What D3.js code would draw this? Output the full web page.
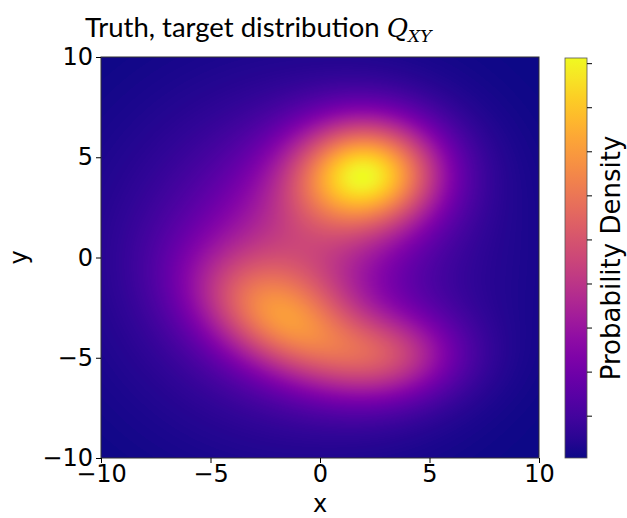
<!DOCTYPE html>
<meta charset="utf-8" />
<style>
  body { margin: 0; background: #fff; }
  svg { font-family: 'DejaVu Sans', sans-serif; }
  .axis text { font-family: 'DejaVu Sans', sans-serif; font-size: 24px; fill: #000; }
  .axis path, .axis line { stroke: #000; stroke-width: 1; }
</style>
<svg width="627" height="518"></svg>
<script src="https://d3js.org/d3.v7.min.js"></script>
<script>
  // gaussian components of the target density
  var compX = [2.15, -1.6, 3.3, -1.2, -1.0];
  var compY = [4.2, -3.3, -4.9, -0.2, 0.0];
  var compSx = [2.3, 3.0, 2.2, 3.0, 5.5];
  var compSy = [1.9, 1.7, 1.5, 3.3, 5.5];
  var compAngle = [0, -32, 0, 0, 0]; // degrees
  var compAmp = [0.0152, 0.0082, 0.0062, 0.0046, 0.0030];

  var xTicks = [-10, -5, 0, 5, 10];
  var yTicks = [-10, -5, 0, 5, 10];
  var cbarTicks = [0, 0.002, 0.004, 0.006, 0.008, 0.01, 0.012, 0.014, 0.016, 0.018];

  var svg = d3.select('svg'),
    margin = { top: 57, left: 101 },
    width = 438,
    height = 401;

  var x = d3.scaleLinear().domain([-10, 10]).range([margin.left, margin.left + width]),
    y = d3.scaleLinear().domain([-10, 10]).range([margin.top + height, margin.top]);

  function density(px, py) {
    var s = 0;
    for (var i = 0; i < compX.length; i++) {
      var a = (compAngle[i] * Math.PI) / 180;
      var dx = px - compX[i], dy = py - compY[i];
      var u = dx * Math.cos(a) + dy * Math.sin(a);
      var v = -dx * Math.sin(a) + dy * Math.cos(a);
      s += compAmp[i] * Math.exp(-(u * u) / (2 * compSx[i] * compSx[i]) - (v * v) / (2 * compSy[i] * compSy[i]));
    }
    return s;
  }

  // sample the field at every pixel of the plot area
  var vals = new Float64Array(width * height);
  var vmin = Infinity, vmax = -Infinity;
  for (var j = 0; j < height; j++) {
    for (var i = 0; i < width; i++) {
      var v = density(x.invert(margin.left + i + 0.5), y.invert(margin.top + j + 0.5));
      vals[j * width + i] = v;
      if (v < vmin) vmin = v;
      if (v > vmax) vmax = v;
    }
  }
  var color = d3.scaleSequential(d3.interpolatePlasma).domain([vmin, vmax]);

  var canvas = document.createElement('canvas');
  canvas.width = width;
  canvas.height = height;
  var ctx = canvas.getContext('2d');
  var img = ctx.createImageData(width, height);
  for (var k = 0; k < vals.length; k++) {
    var c = d3.rgb(color(vals[k]));
    img.data[k * 4] = c.r;
    img.data[k * 4 + 1] = c.g;
    img.data[k * 4 + 2] = c.b;
    img.data[k * 4 + 3] = 255;
  }
  ctx.putImageData(img, 0, 0);

  svg.append('image')
    .attr('x', margin.left)
    .attr('y', margin.top)
    .attr('width', width)
    .attr('height', height)
    .attr('href', canvas.toDataURL());

  // frame
  svg.append('rect')
    .attr('x', margin.left)
    .attr('y', margin.top)
    .attr('width', width)
    .attr('height', height)
    .attr('fill', 'none')
    .attr('stroke', '#333');

  svg.append('g')
    .attr('class', 'axis')
    .attr('transform', 'translate(0,' + (margin.top + height) + ')')
    .call(d3.axisBottom(x).tickValues(xTicks).tickSize(5).tickPadding(2).tickSizeOuter(0))
    .call((g) => g.select('.domain').remove());

  svg.append('g')
    .attr('class', 'axis')
    .attr('transform', 'translate(' + margin.left + ',0)')
    .call(d3.axisLeft(y).tickValues(yTicks).tickSize(5).tickPadding(3).tickSizeOuter(0))
    .call((g) => g.select('.domain').remove());

  svg.append('text')
    .attr('x', x(0))
    .attr('y', 512)
    .attr('text-anchor', 'middle')
    .style('font-size', '24px')
    .text('x');

  svg.append('text')
    .attr('transform', 'translate(27,' + y(0) + ') rotate(-90)')
    .attr('text-anchor', 'middle')
    .style('font-size', '24px')
    .text('y');

  // colorbar
  var cb = { x: 565, w: 22, top: 58, bottom: 458 };
  var cScale = d3.scaleLinear().domain([vmin, vmax]).range([cb.bottom, cb.top]);
  var grad = svg.append('defs').append('linearGradient')
    .attr('id', 'cbar')
    .attr('x1', 0).attr('y1', 1).attr('x2', 0).attr('y2', 0);
  d3.range(0, 1.0001, 0.05).forEach(function (t) {
    grad.append('stop').attr('offset', t).attr('stop-color', d3.interpolatePlasma(t));
  });
  svg.append('rect')
    .attr('x', cb.x)
    .attr('y', cb.top)
    .attr('width', cb.w)
    .attr('height', cb.bottom - cb.top)
    .attr('fill', 'url(#cbar)')
    .attr('stroke', '#555')
    .attr('stroke-width', 0.8);

  svg.append('g')
    .attr('class', 'axis')
    .attr('transform', 'translate(' + (cb.x + cb.w) + ',0)')
    .call(d3.axisRight(cScale).tickValues(cbarTicks.filter((t) => t >= vmin && t <= vmax)).tickSize(5).tickFormat(''))
    .call((g) => g.select('.domain').remove());

  svg.append('text')
    .attr('transform', 'translate(620,' + (cb.top + cb.bottom) / 2 + ') rotate(-90)')
    .attr('text-anchor', 'middle')
    .style('font-size', '26px')
    .text('Probability Density');

  // title
  var title = svg.append('text')
    .attr('x', 85)
    .attr('y', 37)
    .style('font-family', 'Lato, sans-serif')
    .style('font-size', '27.5px');
  title.append('tspan').text('Truth, target distribution ');
  title.append('tspan')
    .style('font-family', "'DejaVu Serif', serif")
    .style('font-style', 'italic')
    .style('font-size', '26px')
    .text('Q');
  title.append('tspan')
    .style('font-family', "'DejaVu Serif', serif")
    .style('font-style', 'italic')
    .style('font-size', '17px')
    .attr('dy', 5)
    .text('XY');
</script>
